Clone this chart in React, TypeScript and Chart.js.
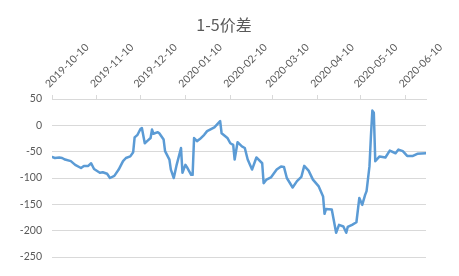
import React, { useEffect, useRef } from "react";
import { Chart, registerables } from "chart.js";

Chart.register(...registerables);

// 1-5 spread, daily observations
const dates: string[] = [
  "2019-10-10", "2019-10-12", "2019-10-15", "2019-10-17", "2019-10-19", "2019-10-23",
  "2019-10-26", "2019-10-30", "2019-11-01", "2019-11-04", "2019-11-06", "2019-11-08",
  "2019-11-12", "2019-11-14", "2019-11-17", "2019-11-19", "2019-11-22", "2019-11-25",
  "2019-11-28", "2019-11-30", "2019-12-03", "2019-12-05", "2019-12-06", "2019-12-08",
  "2019-12-10", "2019-12-11", "2019-12-13", "2019-12-15", "2019-12-17", "2019-12-18",
  "2019-12-19", "2019-12-22", "2019-12-23", "2019-12-26", "2019-12-27", "2019-12-30",
  "2019-12-31", "2020-01-02", "2020-01-04", "2020-01-07", "2020-01-08", "2020-01-10",
  "2020-01-11", "2020-01-14", "2020-01-15", "2020-01-16", "2020-01-18", "2020-01-20",
  "2020-01-23", "2020-01-25", "2020-01-30", "2020-02-03", "2020-02-04", "2020-02-08",
  "2020-02-10", "2020-02-12", "2020-02-13", "2020-02-15", "2020-02-18", "2020-02-20",
  "2020-02-22", "2020-02-25", "2020-02-28", "2020-03-03", "2020-03-04", "2020-03-06",
  "2020-03-09", "2020-03-13", "2020-03-16", "2020-03-18", "2020-03-20", "2020-03-24",
  "2020-03-27", "2020-03-30", "2020-04-01", "2020-04-04", "2020-04-07", "2020-04-11",
  "2020-04-14", "2020-04-15", "2020-04-16", "2020-04-20", "2020-04-23", "2020-04-25",
  "2020-04-28", "2020-04-30", "2020-05-01", "2020-05-04", "2020-05-07", "2020-05-09",
  "2020-05-11", "2020-05-13", "2020-05-14", "2020-05-16", "2020-05-17", "2020-05-18",
  "2020-05-19", "2020-05-20", "2020-05-23", "2020-05-27", "2020-05-30", "2020-06-03",
  "2020-06-05", "2020-06-08", "2020-06-11", "2020-06-15", "2020-06-18", "2020-06-24",
];

const spread: number[] = [
  -60, -62, -61, -62, -65, -68,
  -75, -81, -77, -77, -72, -83,
  -90, -89, -92, -100, -96, -84,
  -68, -62, -59, -51, -23, -18,
  -7, -5, -34, -29, -24, -8,
  -16, -13, -15, -27, -49, -65,
  -84, -100, -75, -43, -90, -75,
  -79, -94, -94, -24, -30, -26,
  -18, -11, -4, 8, -15, -24,
  -34, -37, -65, -32, -40, -43,
  -65, -84, -61, -72, -110, -103,
  -99, -84, -78, -79, -100, -118,
  -106, -98, -77, -86, -103, -116,
  -135, -168, -159, -160, -204, -189,
  -192, -204, -193, -189, -184, -138,
  -151, -132, -125, -78, -21, 28,
  24, -68, -59, -61, -48, -53,
  -46, -49, -58, -58, -54, -53,
];

const tickLabels: string[] = [
  "2019-10-10", "2019-11-10", "2019-12-10", "2020-01-10", "2020-02-10",
  "2020-03-10", "2020-04-10", "2020-05-10", "2020-06-10",
];

const title = "1-5价差";
const startDate = "2019-10-10";
const endDate = "2020-06-24";
const yMin = -250;
const yMax = 50;
const yStep = 50;

const dayNum = (s: string) => Date.parse(s) / 86400000;

const textColor = "#595959";
const gridColor = "#d9d9d9";
const lineColor = "#5B9BD5";
const labelFont = "Lato";

const titlePlugin = {
  id: "centerTitle",
  afterDraw(chart: any) {
    const ctx = chart.ctx;
    ctx.save();
    ctx.font = '16px "Noto Sans CJK SC"';
    ctx.fillStyle = textColor;
    ctx.textAlign = "center";
    ctx.textBaseline = "alphabetic";
    ctx.fillText(title, 224, 31);
    ctx.restore();
  },
};

export default function App() {
  const canvasRef = useRef<HTMLCanvasElement | null>(null);

  useEffect(() => {
    document.body.style.margin = "0";
    const canvas = canvasRef.current;
    if (!canvas) return;

    const chart = new Chart(canvas, {
      type: "line",
      data: {
        datasets: [
          {
            label: title,
            data: dates.map((d, i) => ({ x: dayNum(d), y: spread[i] })),
            borderColor: lineColor,
            borderWidth: 2.5,
            pointRadius: 0,
            tension: 0,
            borderJoinStyle: "round",
            borderCapStyle: "round",
            fill: false,
          },
        ],
      },
      options: {
        animation: false,
        responsive: false,
        events: [],
        layout: {
          autoPadding: false,
          padding: { top: 0, left: 0, right: 33, bottom: 19 },
        },
        plugins: {
          legend: { display: false },
          title: { display: false },
          tooltip: { enabled: false },
        },
        scales: {
          x: {
            type: "linear",
            position: "top",
            min: dayNum(startDate),
            max: dayNum(endDate),
            afterBuildTicks: (scale: any) => {
              scale.ticks = tickLabels.map((t) => ({ value: dayNum(t) }));
            },
            afterFit: (scale: any) => {
              scale.height = 99;
            },
            grid: {
              drawOnChartArea: false,
              drawTicks: true,
              tickLength: 4,
              color: gridColor,
            },
            border: { display: true, color: gridColor },
            ticks: {
              autoSkip: false,
              minRotation: 45,
              maxRotation: 45,
              padding: 5,
              labelOffset: 4,
              color: textColor,
              font: { family: labelFont, size: 10.5 },
              callback: (_v: any, i: number) => tickLabels[i],
            },
          },
          y: {
            min: yMin,
            max: yMax,
            afterFit: (scale: any) => {
              scale.width = 52;
            },
            grid: {
              drawTicks: false,
              color: gridColor,
              lineWidth: 1,
            },
            border: { display: false },
            ticks: {
              stepSize: yStep,
              padding: 10,
              color: textColor,
              font: { family: labelFont, size: 10.5 },
            },
          },
        },
      },
      plugins: [titlePlugin],
    });

    return () => chart.destroy();
  }, []);

  return (
    <div style={{ width: 459, height: 276 }}>
      <canvas ref={canvasRef} width={459} height={276} />
    </div>
  );
}
